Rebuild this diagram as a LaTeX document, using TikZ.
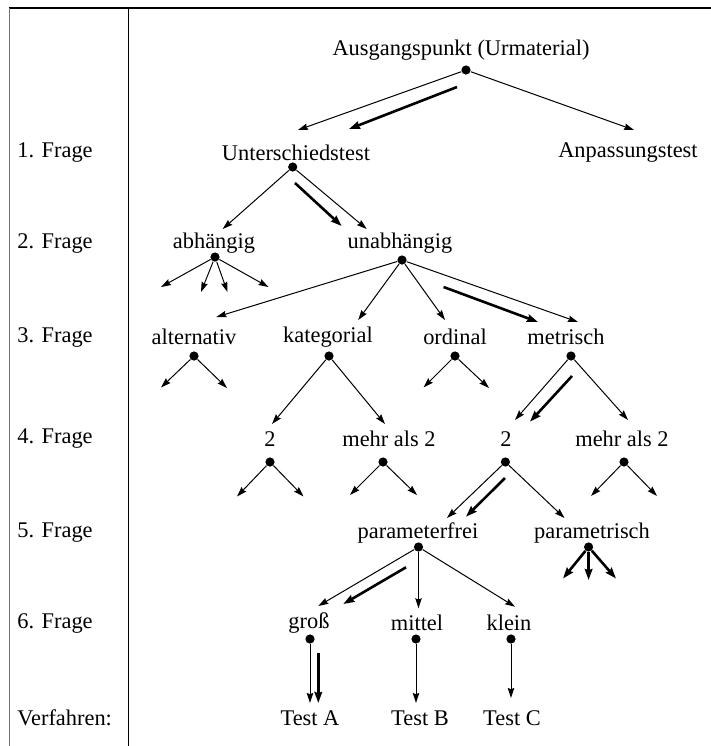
\documentclass[tikz,border=0pt]{standalone}
\usepackage{fontspec}
\setmainfont{Liberation Serif}
\usepackage{tikz}
\usetikzlibrary{arrows.meta, positioning}
\tikzset{
  lbl/.style    = {font=\fontsize{11.2}{13}\selectfont, inner sep=1pt},
  rowlbl/.style = {lbl, anchor=west},
  knot/.style   = {circle, fill=black, inner sep=0pt, minimum size=4.6pt},
  branch/.style = {-{Stealth[length=5pt, width=3.2pt, inset=0.6pt]}, line width=0.5pt},
  route/.style  = {-{Stealth[length=5.5pt, width=3.8pt, inset=0.6pt]}, line width=1.3pt},
}

\begin{document}
\begin{tikzpicture}[x=0.5pt, y=-0.5pt]
  \useasboundingbox (0,0) rectangle (711,746);

  % frame
  \draw[line width=0.9pt] (9,8) -- (711,8);
  \draw[line width=0.5pt, black!55] (9,8) -- (9,746);
  \draw[line width=0.5pt] (128,8) -- (128,746);

  % question column
  \node[rowlbl] (q1) at (15,153) {1. Frage};
  \node[rowlbl] (q2) at (15,243) {2. Frage};
  \node[rowlbl] (q3) at (15,337) {3. Frage};
  \node[rowlbl] (q4) at (15,439) {4. Frage};
  \node[rowlbl] (q5) at (15,533) {5. Frage};
  \node[rowlbl] (q6) at (15,623) {6. Frage};
  \node[rowlbl] (qv) at (15,718) {Verfahren:};

  % labels
  \node[lbl] (start)   at (461,50)  {Ausgangspunkt (Urmaterial)};
  \node[lbl] (unter)   at (296,153) {Unterschiedstest};
  \node[lbl] (anpass)  at (628,153) {Anpassungstest};
  \node[lbl] (abh)     at (214,243) {abhängig};
  \node[lbl] (unabh)   at (400,243) {unabhängig};
  \node[lbl] (alt)     at (194,337) {alternativ};
  \node[lbl] (kat)     at (328,337) {kategorial};
  \node[lbl] (ord)     at (455,337) {ordinal};
  \node[lbl] (met)     at (566,337) {metrisch};
  \node[lbl] (katzwei) at (270,439) {2};
  \node[lbl] (katmehr) at (389,439) {mehr als 2};
  \node[lbl] (metzwei) at (506,439) {2};
  \node[lbl] (metmehr) at (622,439) {mehr als 2};
  \node[lbl] (pfrei)   at (418,533) {parameterfrei};
  \node[lbl] (param)   at (592,533) {parametrisch};
  \node[lbl] (gross)   at (309,623) {groß};
  \node[lbl] (mittel)  at (417,623) {mittel};
  \node[lbl] (klein)   at (509,623) {klein};
  \node[lbl] (testa)   at (310,718) {Test A};
  \node[lbl] (testb)   at (420,718) {Test B};
  \node[lbl] (testc)   at (512,718) {Test C};

  % branching points
  \node[knot] (kstart)   at (466,70) {};
  \node[knot] (kunter)   at (292.7,167) {};
  \node[knot] (kabh)     at (215,257) {};
  \node[knot] (kunabh)   at (402,260) {};
  \node[knot] (kalt)     at (194,356) {};
  \node[knot] (kkat)     at (329,356) {};
  \node[knot] (kord)     at (455,356) {};
  \node[knot] (kmet)     at (571,356) {};
  \node[knot] (kkatzwei) at (270,462) {};
  \node[knot] (kkatmehr) at (383,462) {};
  \node[knot] (kmetzwei) at (505.4,462) {};
  \node[knot] (kmetmehr) at (624,462) {};
  \node[knot] (kpfrei)   at (418.5,547) {};
  \node[knot] (kparam)   at (588.6,547) {};
  \node[knot] (kgross)   at (310,639) {};
  \node[knot] (kmittel)  at (416,639) {};
  \node[knot] (kklein)   at (511,639) {};

  % arrow ends
  \coordinate (tunter)  at (298,130);
  \coordinate (tanpass) at (634,130);
  \coordinate (tabh)    at (222.7,229);
  \coordinate (tunabh)  at (366.7,229);
  \coordinate (tabh1) at (161,287);
  \coordinate (tabh2) at (201,292);
  \coordinate (tabh3) at (227.5,292);
  \coordinate (tabh4) at (268.5,287);
  \coordinate (talt)  at (216.4,317);
  \coordinate (tkat)  at (358.2,320);
  \coordinate (tord)  at (445,320);
  \coordinate (tmet)  at (578,322);
  \coordinate (talt-l) at (161,387.5);
  \coordinate (talt-r) at (227,388);
  \coordinate (tkatzwei) at (272,424);
  \coordinate (tkatmehr) at (385,424);
  \coordinate (tord-l) at (423.5,387.5);
  \coordinate (tord-r) at (489,388);
  \coordinate (tmetzwei) at (515,420);
  \coordinate (tmetmehr) at (628,420);
  \coordinate (tkz-l) at (237,496.5);
  \coordinate (tkz-r) at (303.5,496.5);
  \coordinate (tkm-l) at (350,495);
  \coordinate (tkm-r) at (417,495);
  \coordinate (tpfrei) at (447,518);
  \coordinate (tparam) at (564.5,518);
  \coordinate (tmm-l) at (591,496);
  \coordinate (tmm-r) at (657,496);
  \coordinate (tgross)  at (318.3,606);
  \coordinate (tmittel) at (418.5,608.3);
  \coordinate (tklein)  at (515,606.7);
  \coordinate (tpa-l) at (563,578.5);
  \coordinate (tpa-m) at (588.6,580);
  \coordinate (tpa-r) at (616,578.5);
  \coordinate (ttesta) at (310,703);
  \coordinate (ttestb) at (416,703);
  \coordinate (ttestc) at (511,698);

  % chosen route
  \coordinate (r1a) at (457,87);    \coordinate (r1b) at (349,129);
  \coordinate (r2a) at (295,183);   \coordinate (r2b) at (341.7,226);
  \coordinate (r3a) at (443.6,287); \coordinate (r3b) at (538,322);
  \coordinate (r4a) at (572,376);   \coordinate (r4b) at (530,421.7);
  \coordinate (r5a) at (505,478);   \coordinate (r5b) at (466,516.7);
  \coordinate (r6a) at (406,567.3); \coordinate (r6b) at (343.3,604);
  \coordinate (r7a) at (318.3,652.7); \coordinate (r7b) at (318.3,703);

  \draw[branch] (kstart) -- (tunter);
  \draw[branch] (kstart) -- (tanpass);
  \draw[branch] (kunter) -- (tabh);
  \draw[branch] (kunter) -- (tunabh);
  \draw[branch] (kabh) -- (tabh1);
  \draw[branch] (kabh) -- (tabh2);
  \draw[branch] (kabh) -- (tabh3);
  \draw[branch] (kabh) -- (tabh4);
  \draw[branch] (kunabh) -- (talt);
  \draw[branch] (kunabh) -- (tkat);
  \draw[branch] (kunabh) -- (tord);
  \draw[branch] (kunabh) -- (tmet);
  \draw[branch] (kalt) -- (talt-l);
  \draw[branch] (kalt) -- (talt-r);
  \draw[branch] (kkat) -- (tkatzwei);
  \draw[branch] (kkat) -- (tkatmehr);
  \draw[branch] (kord) -- (tord-l);
  \draw[branch] (kord) -- (tord-r);
  \draw[branch] (kmet) -- (tmetzwei);
  \draw[branch] (kmet) -- (tmetmehr);
  \draw[branch] (kkatzwei) -- (tkz-l);
  \draw[branch] (kkatzwei) -- (tkz-r);
  \draw[branch] (kkatmehr) -- (tkm-l);
  \draw[branch] (kkatmehr) -- (tkm-r);
  \draw[branch] (kmetzwei) -- (tpfrei);
  \draw[branch] (kmetzwei) -- (tparam);
  \draw[branch] (kmetmehr) -- (tmm-l);
  \draw[branch] (kmetmehr) -- (tmm-r);
  \draw[branch] (kpfrei) -- (tgross);
  \draw[branch] (kpfrei) -- (tmittel);
  \draw[branch] (kpfrei) -- (tklein);
  \draw[route] (kparam) -- (tpa-l);
  \draw[route] (kparam) -- (tpa-m);
  \draw[route] (kparam) -- (tpa-r);
  \draw[branch] (kgross) -- (ttesta);
  \draw[branch] (kmittel) -- (ttestb);
  \draw[branch] (kklein) -- (ttestc);

  \draw[route] (r1a) -- (r1b);
  \draw[route] (r2a) -- (r2b);
  \draw[route] (r3a) -- (r3b);
  \draw[route] (r4a) -- (r4b);
  \draw[route] (r5a) -- (r5b);
  \draw[route] (r6a) -- (r6b);
  \draw[route] (r7a) -- (r7b);
\end{tikzpicture}
\end{document}
